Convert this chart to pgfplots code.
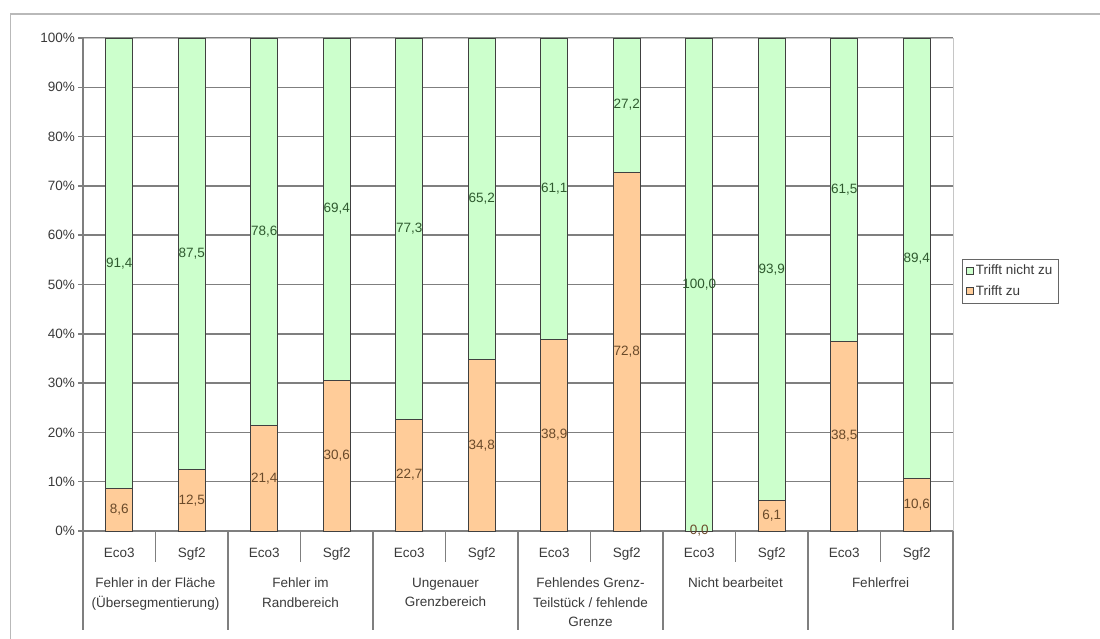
\documentclass[border=0pt]{standalone}
\usepackage{pgfplots}
\usepackage{pgfplotstable}
\pgfplotsset{compat=1.18}
\usepackage{fontspec}
\setmainfont{Liberation Sans}
\definecolor{zu}{HTML}{FFCC99}
\definecolor{nicht}{HTML}{CCFFCC}
\definecolor{gridc}{HTML}{7F7F7F}
\definecolor{txt}{HTML}{3A3A3A}
\definecolor{lblg}{HTML}{2F5A2F}
\definecolor{lblo}{HTML}{6A4A2A}

\pgfplotstableread{
x zu nicht
0 8.6 91.4
1 12.5 87.5
2 21.4 78.6
3 30.6 69.4
4 22.7 77.3
5 34.8 65.2
6 38.9 61.1
7 72.8 27.2
8 0.0 100.0
9 6.1 93.9
10 38.5 61.5
11 10.6 89.4
}\data

\newcommand\fs{\fontsize{13.5}{16}\selectfont}
\pgfplotsset{
  mylegend/.style={legend image code/.code={\draw[##1, draw=black!75, line width=0.6pt] (0pt,-3.5pt) rectangle (7pt,3.5pt);}},
  /pgf/number format/assume math mode=true,
}

\begin{document}
\begin{tikzpicture}
\path[use as bounding box] (0,0) rectangle (1100pt,639pt);
\draw[gray!55, line width=1.6pt] (10.5pt,-10pt) -- (10.5pt,625pt) -- (1110pt,625pt);
\begin{axis}[
  at={(83pt,108pt)}, anchor=south west,
  scale only axis, width=870pt, height=493pt,
  xmin=-0.5, xmax=11.5, ymin=0, ymax=100,
  ybar stacked, bar width=27pt,
  clip=false,
  axis line style={draw=gray!45, line width=0.8pt},
  ytick={0,10,...,100},
  ytick pos=left,
  yticklabel={\pgfmathprintnumber[assume math mode=true]{\tick}\%},
  ymajorgrids, grid style={draw=gridc, line width=1.5pt},
  tick align=outside, major tick length=5pt,
  ytick style={draw=gridc, line width=1.5pt},
  xtick={0,...,11},
  xticklabels={Eco3,Sgf2,Eco3,Sgf2,Eco3,Sgf2,Eco3,Sgf2,Eco3,Sgf2,Eco3,Sgf2},
  xtick style={draw=none},
  xticklabel style={anchor=north, inner sep=0pt, yshift=-12pt},
  yticklabel style={anchor=east, inner sep=0pt, xshift=-3pt},
  every tick label/.append style={text=txt, font=\fs},
  legend style={at={(1.0103,0.5517)}, anchor=north west, draw=black!60,
    font=\fs, text=txt, row sep=5pt, inner sep=4pt, nodes={inner sep=2pt}},
  legend cell align=left,
  reverse legend,
]
\addplot[fill=zu, draw=black!75, line width=0.9pt, mylegend] table[x=x,y=zu]{\data};
\addlegendentry{Trifft zu}
\addplot[fill=nicht, draw=black!75, line width=0.9pt, mylegend] table[x=x,y=nicht]{\data};
\addlegendentry{Trifft nicht zu}
\draw[gridc, line width=1.5pt] (rel axis cs:0,0) -- (rel axis cs:0,1);
\draw[gridc, line width=1.5pt] (rel axis cs:0,0) -- (rel axis cs:1,0);
\pgfplotsinvokeforeach{-0.5,1.5,3.5,5.5,7.5,9.5,11.5}{\draw[gridc, line width=1.3pt] (axis cs:#1,0) -- ++(0pt,-99pt);}
\pgfplotsinvokeforeach{0.5,2.5,4.5,6.5,8.5,10.5}{\draw[gridc, line width=1.3pt] (axis cs:#1,0) -- ++(0pt,-31pt);}
\tikzset{grp/.style={anchor=north, inner sep=0pt, align=center, text=txt, font=\fontsize{13.5}{19.4}\selectfont, yshift=-47pt}}
\node[grp] at (axis cs:0.5,0) {Fehler in der Fläche\\(Übersegmentierung)};
\node[grp] at (axis cs:2.5,0) {Fehler im\\Randbereich};
\node[grp] at (axis cs:4.5,0) {Ungenauer\\Grenzbereich};
\node[grp] at (axis cs:6.5,0) {Fehlendes Grenz-\\Teilstück / fehlende\\Grenze};
\node[grp] at (axis cs:8.5,0) {Nicht bearbeitet};
\node[grp] at (axis cs:10.5,0) {Fehlerfrei};
\end{axis}
\begin{axis}[
  at={(83pt,108pt)}, anchor=south west,
  scale only axis, width=870pt, height=493pt,
  xmin=-0.5, xmax=11.5, ymin=0, ymax=100,
  hide axis, clip=false,
  nodes near coords={\pgfmathprintnumber[fixed,fixed zerofill,precision=1,use comma,assume math mode=true]{\pgfplotspointmeta}},
  every node near coord/.append style={anchor=center, font=\fs, inner sep=0pt},
]
\addplot[only marks, mark=none, point meta=\thisrow{zu}, every node near coord/.append style={text=lblo}]
  table[x=x, y expr=\thisrow{zu}/2]{\data};
\addplot[only marks, mark=none, point meta=\thisrow{nicht}, every node near coord/.append style={text=lblg}]
  table[x=x, y expr=\thisrow{zu}+\thisrow{nicht}/2]{\data};
\end{axis}
\end{tikzpicture}
\end{document}
